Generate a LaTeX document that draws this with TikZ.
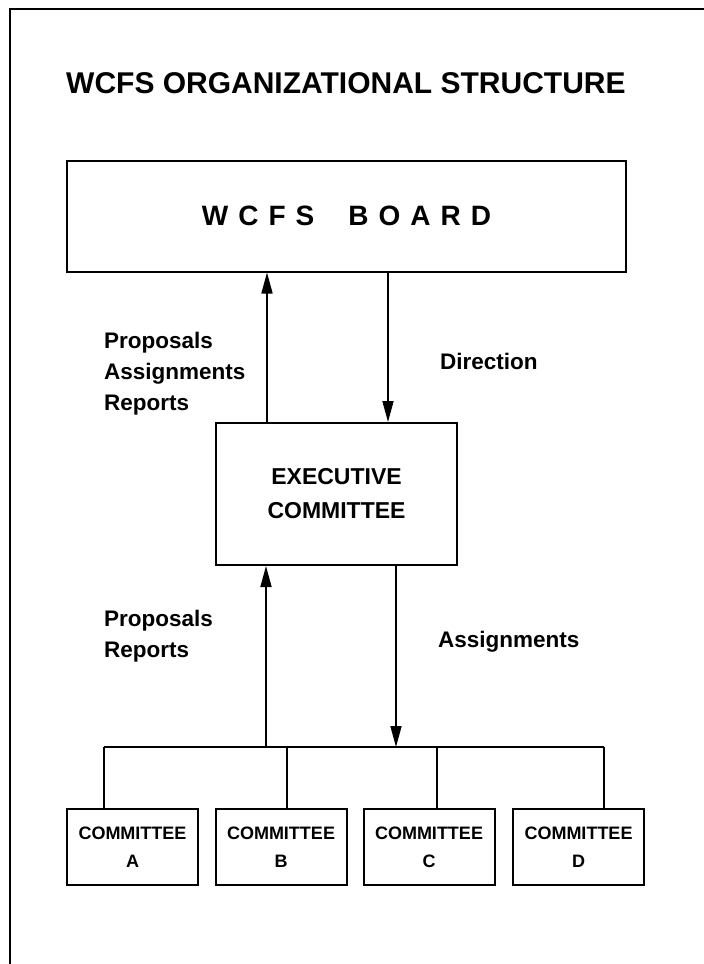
\documentclass[tikz,border=0pt]{standalone}
\usepackage{fontspec}
\setmainfont{Liberation Sans}
\usetikzlibrary{arrows.meta}
% tracking between the letters of the board title
\newcommand\trk{\kern 10pt}
\begin{document}
\begin{tikzpicture}[x=1pt,y=-1pt,
  box/.style={draw, line width=2pt, inner sep=0pt, align=center},
  arr/.style={line width=1.7pt, -{Triangle[length=21pt,width=11pt]}},
  wire/.style={line width=1.7pt},
  lbl/.style={inner sep=0pt, anchor=west, align=left, font=\bfseries\fontsize{22.5}{31}\selectfont},
  unit/.style={box, minimum width=131pt, minimum height=76pt, font=\bfseries\fontsize{18}{28}\selectfont}]
\useasboundingbox (0,0) rectangle (704,964);
\fill[white] (0,0) rectangle (704,964);

% outer frame (left and top edges)
\coordinate (fTL) at (10,9);
\coordinate (fTR) at (704,9);
\coordinate (fBL) at (10,964);
\draw[line width=2.2pt] (fBL) -- (fTL) -- (fTR);

% heading
\node[anchor=base west, inner sep=0pt, font=\bfseries\fontsize{30}{36}\selectfont] (title) at (66,93) {WCFS ORGANIZATIONAL STRUCTURE};

% boxes
\node[box, minimum width=559pt, minimum height=111pt, font=\bfseries\fontsize{28}{32}\selectfont] (board) at (346.5,216) {W\trk C\trk F\trk S\kern 34pt B\trk O\trk A\trk R\trk D};
\node[box, minimum width=241pt, minimum height=142pt, font=\bfseries\fontsize{23}{34}\selectfont] (exec) at (336.5,494) {EXECUTIVE\\COMMITTEE};
\node[unit] (cA) at (132.5,847) {COMMITTEE\\A};
\node[unit] (cB) at (281,847) {COMMITTEE\\B};
\node[unit] (cC) at (429,847) {COMMITTEE\\C};
\node[unit] (cD) at (578.5,847) {COMMITTEE\\D};

% board <-> executive committee
\coordinate (upT) at (267,0);
\coordinate (dnT) at (388,0);
\draw[arr] (exec.north -| upT) -- (board.south -| upT);
\draw[arr] (board.south -| dnT) -- (exec.north -| dnT);

% executive committee <-> committees
\coordinate (busL) at (104,747);
\coordinate (busR) at (604,747);
\coordinate (upB) at (266,747);
\coordinate (dnB) at (396,747);
\coordinate (dropB) at (287,747);
\coordinate (dropC) at (437,747);
\draw[wire] (busL) -- (busR);
\draw[arr] (upB) -- (upB |- exec.south);
\draw[arr] (dnB |- exec.south) -- (dnB);
\draw[wire] (busL) -- (busL |- cA.north);
\draw[wire] (dropB) -- (dropB |- cB.north);
\draw[wire] (dropC) -- (dropC |- cC.north);
\draw[wire] (busR) -- (busR |- cD.north);

% connector labels
\node[lbl] (l1) at (104,374) {Proposals\\Assignments\\Reports};
\node[lbl] (l2) at (440,361) {Direction};
\node[lbl] (l3) at (104,636) {Proposals\\Reports};
\node[lbl] (l4) at (438,642) {Assignments};
\end{tikzpicture}
\end{document}
